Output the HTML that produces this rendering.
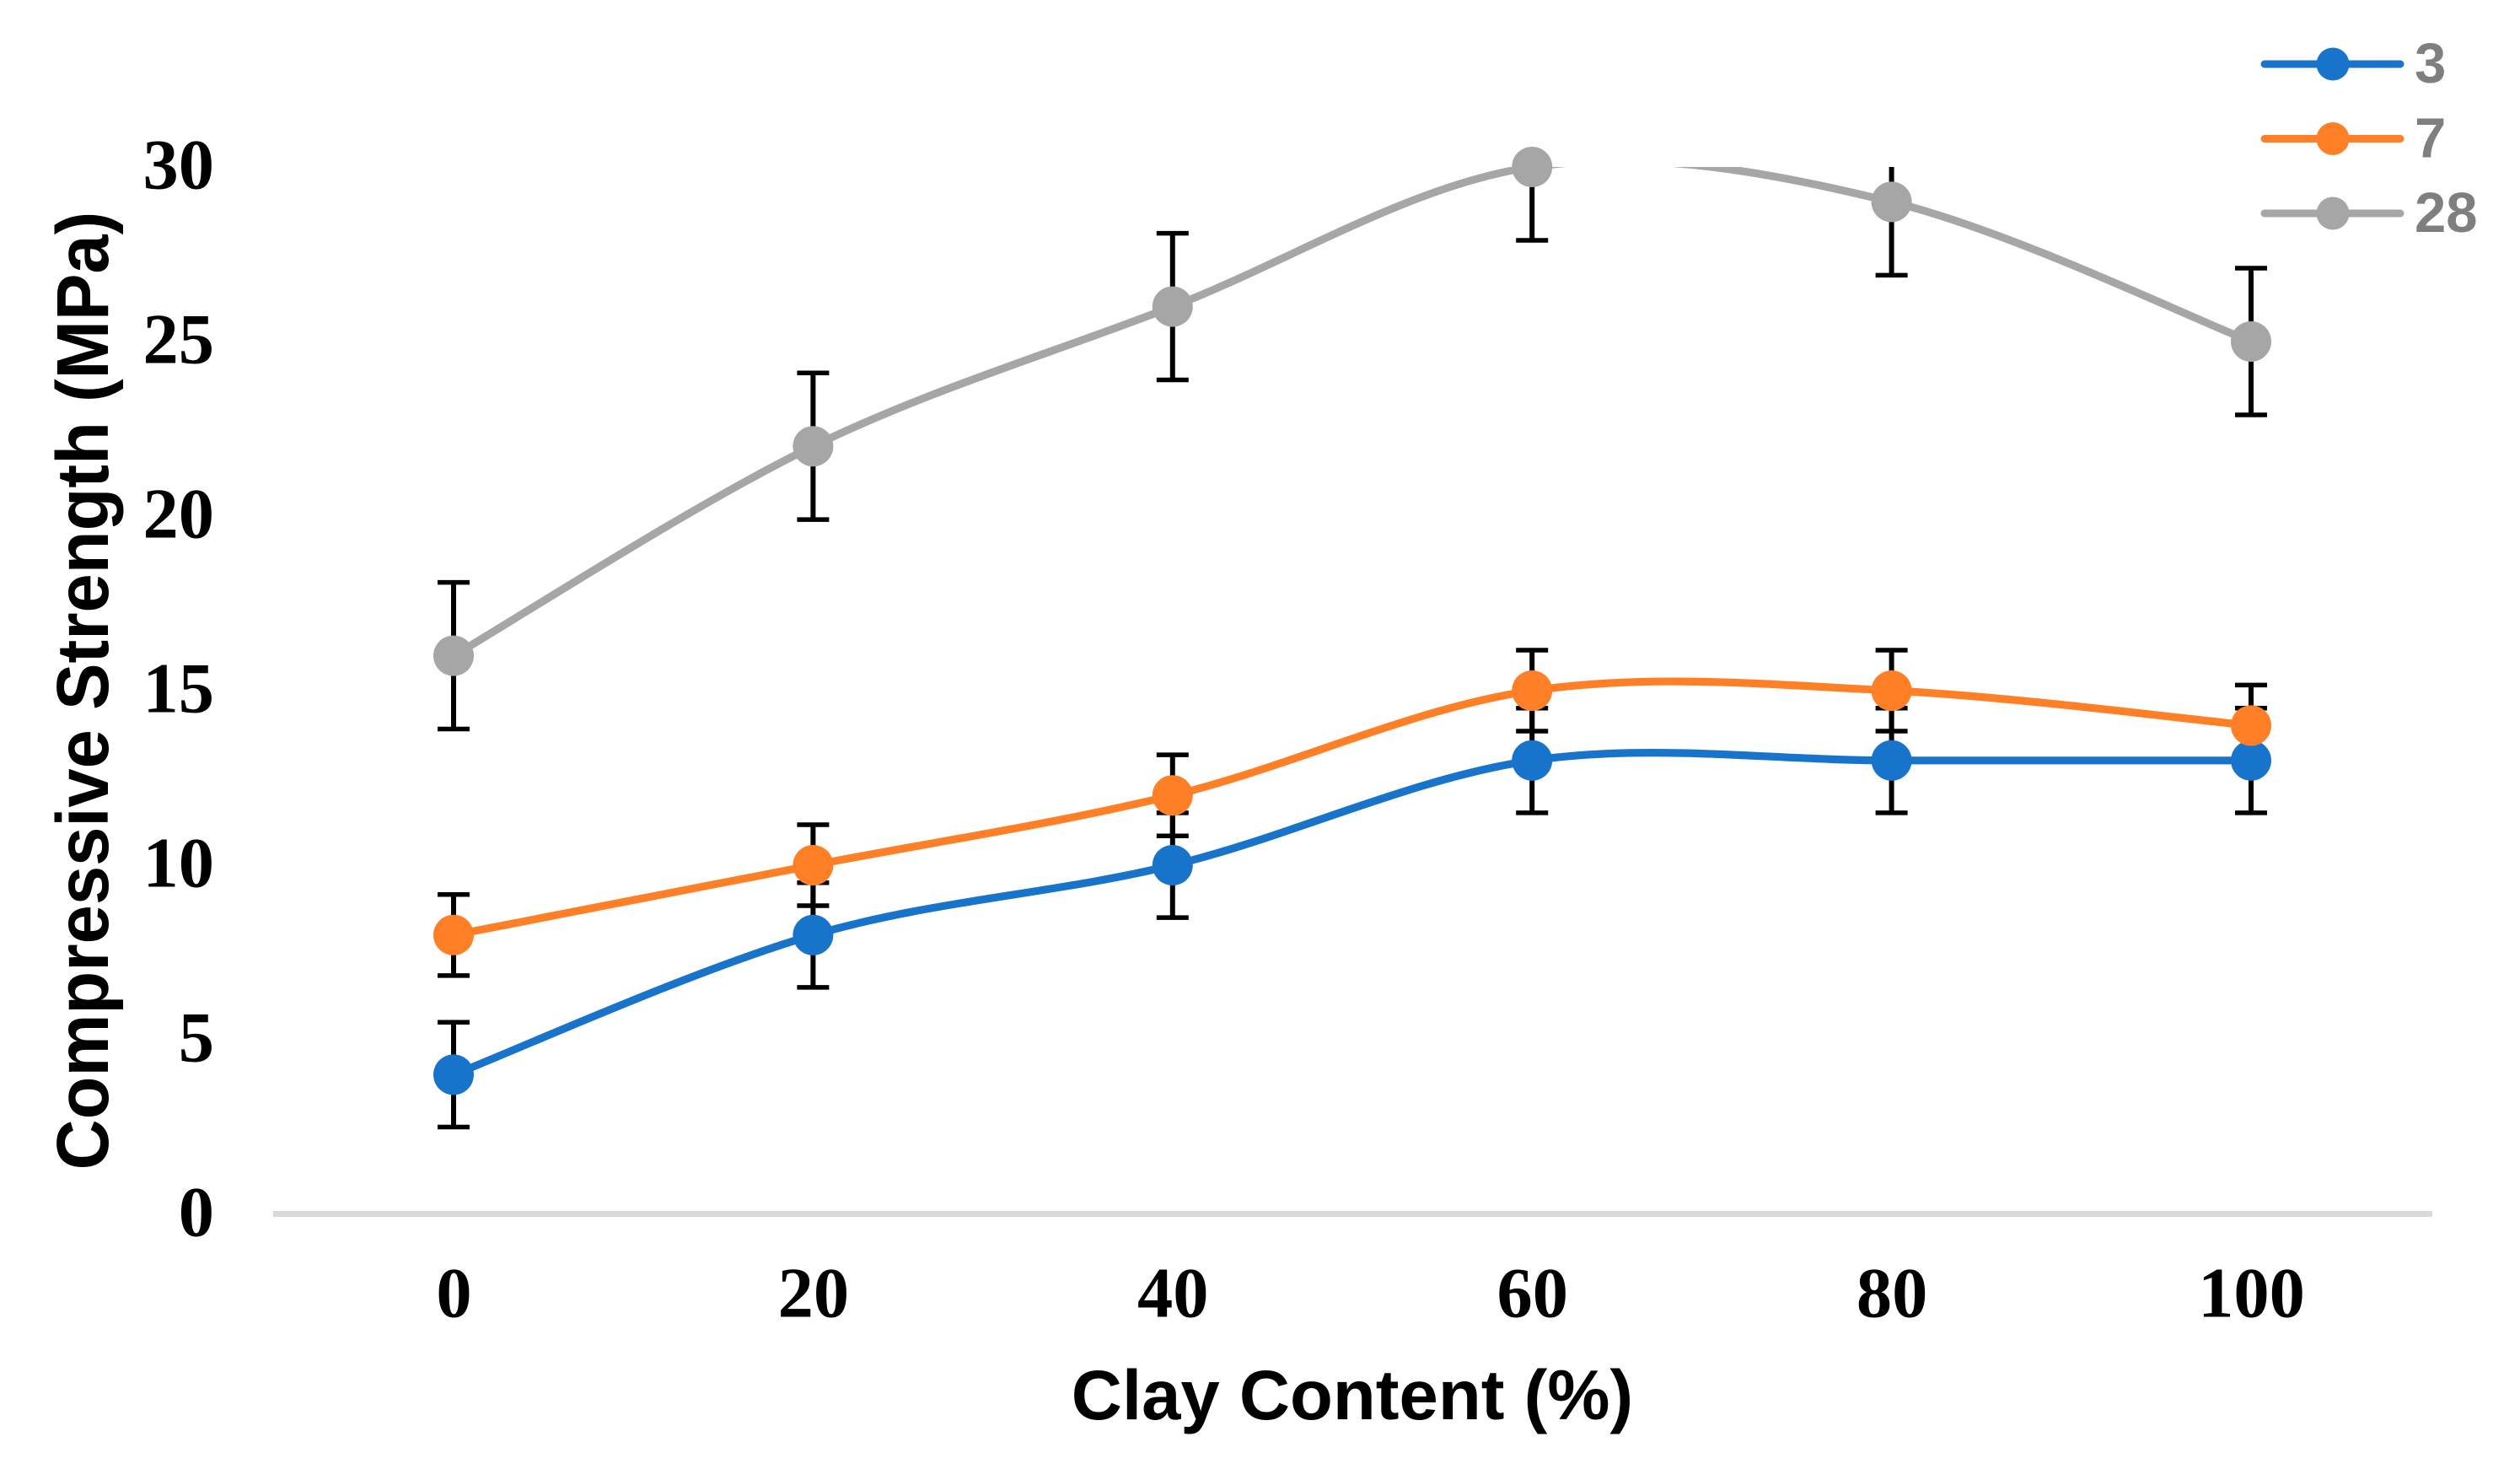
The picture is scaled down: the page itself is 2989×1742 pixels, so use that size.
<!DOCTYPE html>
<html lang="en">
<head>
<meta charset="utf-8">
<title>Compressive Strength vs Clay Content</title>
<style>
html,body{margin:0;padding:0;background:#fff;width:2989px;height:1742px;overflow:hidden}
svg{display:block}
.tick{font-family:"Liberation Serif",serif;font-weight:700;font-size:84.5px;fill:#000}
.title{font-family:"Liberation Sans",sans-serif;font-weight:700;font-size:83.3px;fill:#000}
.ytitle{font-family:"Liberation Sans",sans-serif;font-weight:700;font-size:87px;fill:#000}
.leg{font-family:"Liberation Sans",sans-serif;font-weight:700;font-size:67px;fill:#7f7f7f}
</style>
</head>
<body>
<svg id="chart" xmlns="http://www.w3.org/2000/svg" width="2989" height="1742" viewBox="0 0 2989 1742">
  <defs><clipPath id="plot-clip"><rect x="324" y="198" width="2561" height="1242"/></clipPath></defs>
  <rect x="0" y="0" width="2989" height="1742" fill="#fff"/>
  <rect x="324" y="1436" width="2561" height="7" fill="#d9d9d9"/>
  <text class="title" x="1604" y="1683" text-anchor="middle">Clay Content (%)</text>
  <text class="ytitle" x="0" y="0" text-anchor="middle" transform="translate(128 819) rotate(-90) scale(0.956 1)">Compressive Strength (MPa)</text>
  <g id="ticks"></g>
  <g id="errors"></g>
  <g id="lines"></g>
  <g id="markers"></g>
  <g id="legend"></g>
</svg>
<script>
const categories = [0, 20, 40, 60, 80, 100];
const xTickLabels = ["0", "20", "40", "60", "80", "100"];
const yTickValues = [0, 5, 10, 15, 20, 25, 30];
const seriesNames = ["3", "7", "28"];
const series3 = [4, 8, 10, 13, 13, 13];
const series7 = [8, 10, 12, 15, 15, 14];
const series28 = [16, 22, 26, 30, 29, 25];
const error3 = 1.5;
const error7 = 1.16;
const error28 = 2.1;
const seriesColors = ["#1874cb", "#ff7f27", "#a6a6a6"];

const allValues = [series3, series7, series28];
const allErrors = [error3, error7, error28];
const NS = "http://www.w3.org/2000/svg";

function xScale(v) { return 538 + v * 21.32; }
function yScale(v) { return 1440 - v * 41.4; }

function make(parent, tag, attrs) {
  const el = document.createElementNS(NS, tag);
  for (const k in attrs) el.setAttribute(k, attrs[k]);
  parent.appendChild(el);
  return el;
}

function smoothPath(pts) {
  let d = "M" + pts[0][0] + " " + pts[0][1];
  for (let i = 0; i < pts.length - 1; i++) {
    const p0 = pts[Math.max(i - 1, 0)];
    const p1 = pts[i];
    const p2 = pts[i + 1];
    const p3 = pts[Math.min(i + 2, pts.length - 1)];
    const c1x = p1[0] + (p2[0] - p0[0]) / 6;
    const c1y = p1[1] + (p2[1] - p0[1]) / 6;
    const c2x = p2[0] - (p3[0] - p1[0]) / 6;
    const c2y = p2[1] - (p3[1] - p1[1]) / 6;
    d += " C" + c1x + " " + c1y + " " + c2x + " " + c2y + " " + p2[0] + " " + p2[1];
  }
  return d;
}

const ticksG = document.getElementById("ticks");
const errorsG = document.getElementById("errors");
const linesG = document.getElementById("lines");
const markersG = document.getElementById("markers");
const legendG = document.getElementById("legend");

yTickValues.forEach(function (v) {
  const t = make(ticksG, "text", { class: "tick", x: 254, y: yScale(v) + 25.5, "text-anchor": "end" });
  t.textContent = String(v);
  
  
});

categories.forEach(function (c, i) {
  const t = make(ticksG, "text", { class: "tick", x: xScale(c) + 0.5, y: 1561.5, "text-anchor": "middle" });
  t.textContent = xTickLabels[i];
  
  
});

allValues.forEach(function (vals, s) {
  const errG = make(errorsG, "g", { "clip-path": "url(#plot-clip)", stroke: "#000", fill: "none" });
  
  
  vals.forEach(function (v, i) {
    const x = xScale(categories[i]);
    const yTop = yScale(v + allErrors[s]);
    const yBot = yScale(v - allErrors[s]);
    const stem = make(errG, "line", { x1: x, x2: x, y1: yTop, y2: yBot, "stroke-width": 6 });
    
    
    const capTop = make(errG, "line", { x1: x - 19, x2: x + 19, y1: yTop, y2: yTop, "stroke-width": 5.5 });
    
    
    const capBot = make(errG, "line", { x1: x - 19, x2: x + 19, y1: yBot, y2: yBot, "stroke-width": 5.5 });
    
    
  });

  const pts = vals.map(function (v, i) { return [xScale(categories[i]), yScale(v)]; });
  const path = make(linesG, "path", {
    d: smoothPath(pts), fill: "none", stroke: seriesColors[s], "stroke-width": 9.2,
    "stroke-linejoin": "round", "clip-path": "url(#plot-clip)"
  });
  
  

  pts.forEach(function (p) {
    const m = make(markersG, "circle", { cx: p[0], cy: p[1], r: 24, fill: seriesColors[s] });
    
    
  });

  const ly = 76 + s * 88.5;
  const entry = make(legendG, "g", {});
  
  
  const ll = make(entry, "line", { x1: 2686, x2: 2847, y1: ly, y2: ly, stroke: seriesColors[s], "stroke-width": 9, "stroke-linecap": "round" });
  
  
  const lm = make(entry, "circle", { cx: 2767, cy: ly, r: 19.5, fill: seriesColors[s] });
  
  
  const lt = make(entry, "text", { class: "leg", x: 2864, y: ly + 22 });
  lt.textContent = seriesNames[s];
  
  
});
</script>
</body>
</html>
